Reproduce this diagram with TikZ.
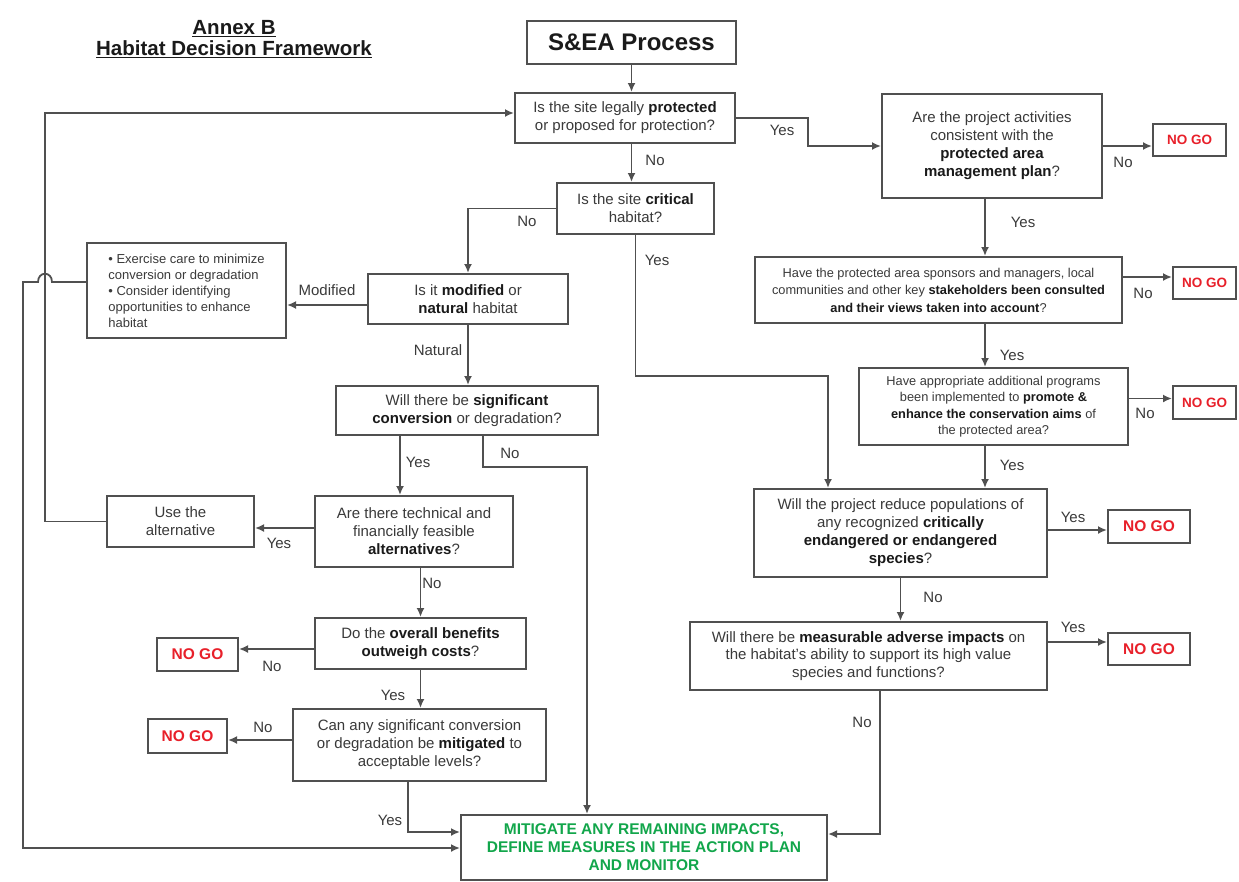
\documentclass[tikz,border=0pt]{standalone}
\usepackage{fontspec}
\setmainfont{Liberation Sans}
\usetikzlibrary{arrows.meta}
\definecolor{ln}{HTML}{505050}
\definecolor{tx}{HTML}{3A3A3A}
\definecolor{bx}{HTML}{1A1A1A}
\definecolor{nogored}{HTML}{E8202A}
\definecolor{mitgreen}{HTML}{12A64B}
\newcommand{\hbold}[1]{\textbf{\color{bx}#1}}
\begin{document}
\begin{tikzpicture}[x=1pt,y=-1pt,
  box/.style={draw=ln, line width=2pt, rectangle, inner sep=2pt, align=center, text=tx, font=\fontsize{15}{18}\selectfont},
  nogo/.style={draw=ln, line width=2pt, text=nogored, inner sep=0pt, font=\bfseries\fontsize{15.5}{17}\selectfont},
  nogos/.style={nogo, font=\bfseries\fontsize{13.5}{15}\selectfont},
  conn/.style={draw=ln, line width=1.8pt, -{Latex[length=9pt,width=8pt]}},
  lbl/.style={text=tx, inner sep=0pt, font=\fontsize{15}{17}\selectfont},
]
\useasboundingbox (0,0) rectangle (1239,881);
\fill[white] (0,0) rectangle (1239,881);

% title
\node[align=center, text=bx, font=\bfseries\fontsize{20.5}{21.5}\selectfont] (title) at (234,39)
  {\underline{Annex B}\\\underline{Habitat Decision Framework}};

% nodes
\node[box, font=\bfseries\fontsize{24}{26}\selectfont, text=bx, minimum width=209pt, minimum height=43pt] (sea) at (631.5,42.5) {S\&EA Process};
\node[box, minimum width=220pt, minimum height=50pt] (b1) at (625,118) {Is the site legally \hbold{protected}\\or proposed for protection?};
\node[box, minimum width=157pt, minimum height=51pt] (b2) at (635.5,208.5) {Is the site \hbold{critical}\\habitat?};
\node[box, minimum width=220pt, minimum height=104pt] (P) at (992,146) {Are the project activities\\consistent with the\\\hbold{protected area}\\\hbold{management plan}?};
\node[box, font=\fontsize{12.8}{17.5}\selectfont, minimum width=367pt, minimum height=66pt] (S) at (938.5,290) {Have the protected area sponsors and managers, local\\communities and other key \hbold{stakeholders been consulted}\\\hbold{and their views taken into account}?};
\node[box, font=\fontsize{12.8}{16.5}\selectfont, minimum width=269pt, minimum height=77pt] (A) at (993.5,406.5) {Have appropriate additional programs\\been implemented to \hbold{promote \&}\\\hbold{enhance the conservation aims} of\\the protected area?};
\node[box, minimum width=293pt, minimum height=88pt] (E) at (900.5,533) {Will the project reduce populations of\\any recognized \hbold{critically}\\\hbold{endangered or endangered}\\\hbold{species}?};
\node[box, font=\fontsize{15}{17.5}\selectfont, minimum width=357pt, minimum height=68pt] (M) at (868.5,656) {Will there be \hbold{measurable adverse impacts} on\\the habitat's ability to support its high value\\species and functions?};
\node[box, font=\fontsize{13}{16}\selectfont, align=left, minimum width=199pt, minimum height=95pt] (ex) at (186.5,290.5) {\textbullet\ Exercise care to minimize\\conversion or degradation\\\textbullet\ Consider identifying\\opportunities to enhance\\habitat};
\node[box, minimum width=200pt, minimum height=50pt] (m1) at (468,299) {Is it \hbold{modified} or\\\hbold{natural} habitat};
\node[box, minimum width=262pt, minimum height=49pt] (sig) at (467,410.5) {Will there be \hbold{significant}\\\hbold{conversion} or degradation?};
\node[box, minimum width=198pt, minimum height=71pt] (T) at (414,531.5) {Are there technical and\\financially feasible\\\hbold{alternatives}?};
\node[box, minimum width=147pt, minimum height=51pt] (use) at (180.5,521.5) {Use the\\alternative};
\node[box, minimum width=211pt, minimum height=51pt] (O) at (420.5,643.5) {Do the \hbold{overall benefits}\\\hbold{outweigh costs}?};
\node[box, minimum width=253pt, minimum height=72pt] (C) at (419.5,745) {Can any significant conversion\\or degradation be \hbold{mitigated} to\\acceptable levels?};
\node[box, text=mitgreen, font=\bfseries\fontsize{15.5}{18}\selectfont, minimum width=366pt, minimum height=65pt] (F) at (644,847.5) {MITIGATE ANY REMAINING IMPACTS,\\DEFINE MEASURES IN THE ACTION PLAN\\AND MONITOR};

% NO GO boxes
\node[nogos, minimum width=73pt, minimum height=32pt] (ng1) at (1189.5,140) {NO GO};
\node[nogos, minimum width=63pt, minimum height=32pt] (ngS) at (1204.5,283) {NO GO};
\node[nogos, minimum width=63pt, minimum height=33pt] (ngA) at (1204.5,402.5) {NO GO};
\node[nogo, minimum width=82pt, minimum height=33pt] (ngE) at (1149,526.5) {NO GO};
\node[nogo, minimum width=82pt, minimum height=32pt] (ngM) at (1149,649) {NO GO};
\node[nogo, minimum width=81pt, minimum height=33pt] (ngO) at (197.5,654.5) {NO GO};
\node[nogo, minimum width=79pt, minimum height=34pt] (ngC) at (187.5,736) {NO GO};

% helper coordinates
\coordinate (t1) at (808,130);
\coordinate (spine) at (985,0);
\coordinate (yt) at (828,376);
\coordinate (mt) at (880,834);
\coordinate (sy) at (400,0);
\coordinate (sn1) at (483,467);
\coordinate (sn2) at (587,467);
\coordinate (lx) at (45,0);
\coordinate (cy) at (408,832);
\coordinate (ll) at (23,848);
\coordinate (hopR) at (52,282);
\coordinate (hopL) at (38,282);

% connectors
\draw[conn] (sea.south) -- (sea.south |- b1.north);
\draw[conn] (b1.south -| sea.south) -- (b2.north -| sea.south);
\draw[conn] (b1.east) -| (t1) |- (P.west);
\draw[conn] (P.east) -- (P.east -| ng1.west);
\draw[conn] (spine |- P.south) -- (spine |- S.north);
\draw[conn] ([yshift=13pt]S.east) -- ([yshift=13pt]S.east -| ngS.west);
\draw[conn] (spine |- S.south) -- (spine |- A.north);
\draw[conn] ([yshift=8pt]A.east) -- ([yshift=8pt]A.east -| ngA.west);
\draw[conn] (spine |- A.south) -- (spine |- E.north);
\draw[conn] ([yshift=3pt]E.east) -- ([yshift=3pt]E.east -| ngE.west);
\draw[conn] (E.south) -- (E.south |- M.north);
\draw[conn] ([yshift=14pt]M.east) -- ([yshift=14pt]M.east -| ngM.west);
\draw[conn] (mt |- M.south) -- (mt) -- (mt -| F.east);
\draw[conn] (b2.west) -| (m1.north);
\draw[conn] (b2.south) |- (yt) -- (yt |- E.north);
\draw[conn] ([yshift=-6pt]m1.west) -- ([yshift=-6pt]m1.west -| ex.east);
\draw[conn] (m1.south) -- (m1.south |- sig.north);
\draw[conn] (sy |- sig.south) -- (sy |- T.north);
\draw[conn] (sn1 |- sig.south) -- (sn1) -- (sn2) -- (sn2 |- F.north);
\draw[conn] ([yshift=3.5pt]T.west) -- ([yshift=3.5pt]T.west -| use.east);
\draw[conn] (use.west) -| ([yshift=5pt]b1.west -| lx) -- ([yshift=5pt]b1.west);
\draw[conn] (T.south -| O.north) -- (O.north);
\draw[conn] ([yshift=-5.5pt]O.west) -- ([yshift=-5.5pt]O.west -| ngO.east);
\draw[conn] (O.south) -- (O.south |- C.north);
\draw[conn] ([yshift=5pt]C.west) -- ([yshift=5pt]C.west -| ngC.east);
\draw[conn] (cy |- C.south) -- (cy) -- (cy -| F.west);
\draw[conn] ([yshift=8.5pt]ex.west) -- (hopR) .. controls (52,271) and (38,271) .. (hopL) -- (hopL -| ll) -- (ll) -- (ll -| F.west);

% labels
\node[lbl] (l1) at (655,160) {No};
\node[lbl] (l2) at (782,130) {Yes};
\node[lbl] (l3) at (1123,162) {No};
\node[lbl] (l4) at (1023,222) {Yes};
\node[lbl] (l5) at (1143,293) {No};
\node[lbl] (l6) at (1012,355) {Yes};
\node[lbl] (l7) at (1145,413) {No};
\node[lbl] (l8) at (1012,465) {Yes};
\node[lbl] (l9) at (1073,517) {Yes};
\node[lbl] (l10) at (933,597) {No};
\node[lbl] (l11) at (1073,627) {Yes};
\node[lbl] (l12) at (862,722) {No};
\node[lbl] (l13) at (527,221) {No};
\node[lbl] (l14) at (657,260) {Yes};
\node[lbl] (l15) at (327,290) {Modified};
\node[lbl] (l16) at (438,350) {Natural};
\node[lbl] (l17) at (418,462) {Yes};
\node[lbl] (l18) at (510,453) {No};
\node[lbl] (l19) at (279,543) {Yes};
\node[lbl] (l20) at (432,583) {No};
\node[lbl] (l21) at (272,666) {No};
\node[lbl] (l22) at (393,695) {Yes};
\node[lbl] (l23) at (263,727) {No};
\node[lbl] (l24) at (390,820) {Yes};
\end{tikzpicture}
\end{document}
